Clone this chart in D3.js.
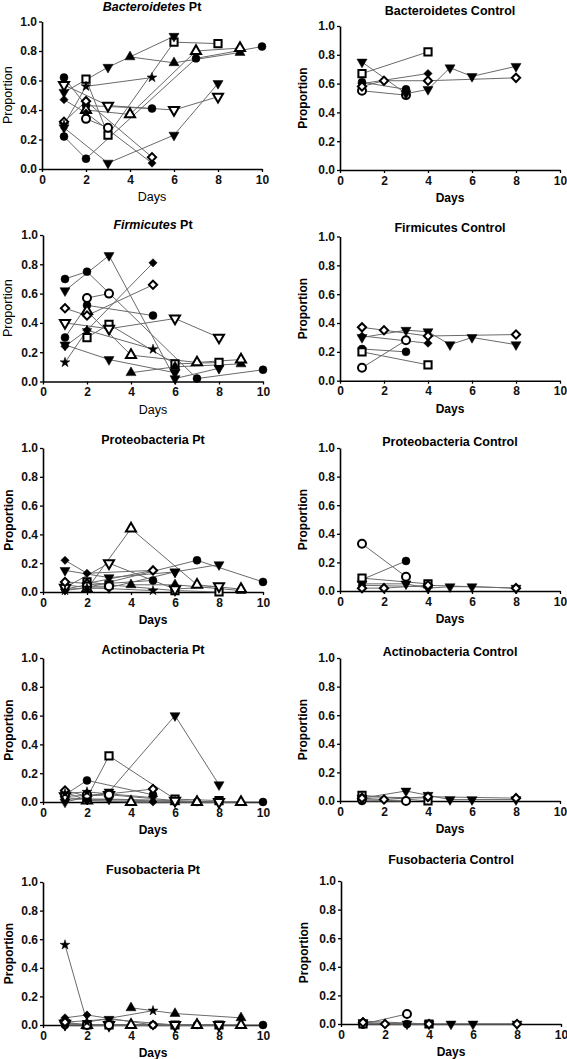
<!DOCTYPE html>
<html><head><meta charset="utf-8">
<script src="https://cdn.jsdelivr.net/npm/d3@7"></script>
<style>body{margin:0;background:#fff}svg text{font-family:"Liberation Sans",Arial,sans-serif}</style>
</head><body><svg id="c" width="567" height="1059"></svg>
<script>
// ---------- data ----------
const xTickValues = [0, 2, 4, 6, 8, 10];
const yTickValues = [0, 0.2, 0.4, 0.6, 0.8, 1.0];
const phyla = ["Bacteroidetes", "Firmicutes", "Proteobacteria", "Actinobacteria", "Fusobacteria"];
const groups = ["Pt", "Control"];

// patients (Pt group)
const ptMarkers = ["circle","circle","squareOpen","triUp","triUpOpen","triDown","triDown","triDownOpen","diamond","diamondOpen","circleOpen","star"];
const ptDays = [[1,2,5],[1,2,7,10],[2,3,6,8],[4,6,9],[2,4,7,9],[1,3,6],[1,3,6,8],[1,3,6,8],[1,2,5],[1,2,5],[2,3],[1,2,5]];

const bacteroidetesPt = [[0.62,0.43,0.41],[0.22,0.07,0.75,0.83],[0.61,0.23,0.86,0.85],[0.76,0.72,0.79],[0.40,0.37,0.80,0.82],[0.52,0.69,0.90],[0.28,0.04,0.23,0.58],[0.57,0.43,0.40,0.49],[0.47,0.38,0.04],[0.32,0.46,0.08],[0.34,0.28],[0.30,0.56,0.62]];
const firmicutesPt = [[0.30,0.52,0.45],[0.70,0.75,0.02,0.08],[0.30,0.39,0.12,0.13],[0.06,0.10,0.12],[0.48,0.18,0.13,0.15],[0.25,0.15,0.06],[0.62,0.86,0.02,0.09],[0.40,0.36,0.43,0.30],[0.24,0.35,0.81],[0.50,0.45,0.66],[0.57,0.60],[0.13,0.35,0.22]];
const proteobacteriaPt = [[0.02,0.05,0.08],[0.05,0.03,0.22,0.07],[0.07,0.05,0.01,0.00],[0.05,0.05,0.01],[0.02,0.44,0.05,0.02],[0.15,0.10,0.14],[0.02,0.03,0.14,0.19],[0.03,0.20,0.02,0.04],[0.22,0.13,0.15],[0.07,0.06,0.15],[0.04,0.04],[0.01,0.03,0.01]];
const actinobacteriaPt = [[0.05,0.15,0.05],[0.03,0.02,0.00,0.00],[0.03,0.32,0.02,0.01],[0.00,0.00,0.00],[0.01,0.00,0.00,0.00],[0.02,0.02,0.01],[0.00,0.07,0.60,0.12],[0.04,0.05,0.01,0.00],[0.07,0.01,0.00],[0.08,0.04,0.09],[0.05,0.05],[0.06,0.07,0.03]];
const fusobacteriaPt = [[0.01,0.00,0.00],[0.00,0.00,0.00,0.00],[0.00,0.00,0.00,0.00],[0.12,0.08,0.05],[0.00,0.00,0.00,0.00],[0.02,0.04,0.00],[0.00,0.00,0.00,0.00],[0.01,0.00,0.00,0.00],[0.05,0.07,0.00],[0.02,0.00,0.00],[0.00,0.00],[0.56,0.02,0.10]];

// controls
const ctlMarkers = ["circle","circleOpen","squareOpen","triDown","diamond","diamondOpen"];
const ctlDays = [[1,3],[1,3],[1,4],[1,3,4,5,6,8],[1,4],[1,2,4,8]];

const bacteroidetesControl = [[0.61,0.56],[0.55,0.52],[0.67,0.82],[0.75,0.53,0.56,0.71,0.65,0.72],[0.60,0.67],[0.58,0.62,0.62,0.64]];
const firmicutesControl = [[0.22,0.20],[0.09,0.28],[0.20,0.11],[0.30,0.35,0.34,0.25,0.30,0.25],[0.31,0.26],[0.37,0.35,0.31,0.32]];
const proteobacteriaControl = [[0.08,0.21],[0.33,0.10],[0.09,0.05],[0.05,0.05,0.02,0.03,0.03,0.02],[0.04,0.03],[0.02,0.02,0.04,0.02]];
const actinobacteriaControl = [[0.00,0.00],[0.01,0.00],[0.04,0.00],[0.02,0.07,0.04,0.01,0.01,0.01],[0.03,0.02],[0.02,0.01,0.03,0.02]];
const fusobacteriaControl = [[0.00,0.00],[0.00,0.07],[0.00,0.00],[0.01,0.00,0.00,0.00,0.00,0.00],[0.02,0.00],[0.01,0.00,0.00,0.00]];

const ptValues = [bacteroidetesPt, firmicutesPt, proteobacteriaPt, actinobacteriaPt, fusobacteriaPt];
const ctlValues = [bacteroidetesControl, firmicutesControl, proteobacteriaControl, actinobacteriaControl, fusobacteriaControl];

// ---------- layout ----------
// per row: [left: x0, yTop, yBottom, titleY], [right: ...]
const panelBoxes = [
  [[42, 21.5, 169, 7], [340, 26, 170, 11]],
  [[43, 235, 381.5, 225], [340, 236.5, 380.7, 228]],
  [[43, 448, 592, 440], [340, 448, 591, 442]],
  [[43, 658, 802, 650], [340, 658, 801, 652]],
  [[43, 882, 1025, 870], [341, 881, 1024, 860]]
];
const plotW = 220;

const svg = d3.select("#c");

function symPath(type) {
  const base = type.replace("Open", "");
  if (base === "circle") return d3.symbol(d3.symbolCircle, 50)();
  if (base === "square") return d3.symbol(d3.symbolSquare, 52)();
  if (base === "triUp" || base === "triDown") return d3.symbol(d3.symbolTriangle, 44)();
  if (base === "diamond") return d3.symbol(d3.symbolSquare, 34)();
  if (base === "star") return d3.symbol(d3.symbolStar, 30)();
}
function symRot(type) {
  const base = type.replace("Open", "");
  if (base === "triDown") return 180;
  if (base === "diamond") return 45;
  return 0;
}

phyla.forEach((phylum, r) => {
  groups.forEach((grp, c) => {
    const [x0, yTop, yBot, titleY] = panelBoxes[r][c];
    const x = d3.scaleLinear().domain([0, 10]).range([x0, x0 + plotW]);
    const y = d3.scaleLinear().domain([0, 1]).range([yBot, yTop]);
    const g = svg.append("g");
    const plain = (r < 2 && c === 0);

    // title
    const t = g.append("text").attr("x", x0 + plotW / 2).attr("y", titleY).attr("dy", "0.35em")
      .attr("text-anchor", "middle").attr("font-weight", "bold").attr("font-size", 12.5);
    if (grp === "Pt" && r < 2) {
      t.append("tspan").attr("font-style", "italic").text(phylum);
      t.append("tspan").text(" " + grp);
    } else {
      t.text(phylum + " " + grp);
    }

    // axes
    const ya = g.append("g").attr("transform", `translate(${x0},0)`)
      .call(d3.axisLeft(y).tickValues(yTickValues).tickFormat(d3.format(".1f")).tickSize(3).tickSizeOuter(0).tickPadding(2));
    const xa = g.append("g").attr("transform", `translate(0,${yBot})`)
      .call(d3.axisBottom(x).tickValues(xTickValues).tickFormat(d3.format("d")).tickSize(3).tickSizeOuter(0).tickPadding(3));
    [ya, xa].forEach(a => {
      a.select(".domain").attr("stroke", "#000").attr("stroke-width", 1.6);
      a.selectAll(".tick line").attr("stroke", "#000").attr("stroke-width", 1.3);
      a.selectAll(".tick text").attr("font-size", 12).attr("font-weight", "bold").attr("fill", "#111")
        .style("font-family", '"Liberation Sans",Arial,sans-serif');
    });

    // axis labels
    g.append("text").attr("x", x0 + plotW / 2).attr("y", yBot + 28).attr("dy", "0.35em")
      .attr("text-anchor", "middle").attr("font-size", plain ? 12.5 : 12).attr("font-weight", plain ? "normal" : "bold")
      .text("Days");
    g.append("text").attr("transform", `translate(${c === 0 ? (plain ? 7.5 : 9) : x0 - 37},${(yTop + yBot) / 2}) rotate(-90)`)
      .attr("dy", "0.35em").attr("text-anchor", "middle")
      .attr("font-size", plain ? 12.5 : 12).attr("font-weight", plain ? "normal" : "bold")
      .text("Proportion");

    const markers = grp === "Pt" ? ptMarkers : ctlMarkers;
    const daysArr = grp === "Pt" ? ptDays : ctlDays;
    const vals = grp === "Pt" ? ptValues[r] : ctlValues[r];
    const series = vals.map((v, i) => ({ marker: markers[i], pts: v.map((val, j) => [daysArr[i][j], val]) }));

    const line = d3.line().x(d => x(d[0])).y(d => y(d[1]));
    g.append("g").selectAll("path").data(series).join("path")
      .attr("d", s => line(s.pts)).attr("fill", "none").attr("stroke", "#6a6a6a").attr("stroke-width", 1);

    series.forEach(s => {
      const open = s.marker.includes("Open");
      g.append("g").selectAll("path").data(s.pts).join("path")
        .attr("d", symPath(s.marker))
        .attr("transform", d => `translate(${x(d[0])},${y(d[1])}) rotate(${symRot(s.marker)})`)
        .attr("fill", open ? "#fff" : "#000")
        .attr("stroke", "#000").attr("stroke-width", open ? 2 : 0.5);
    });
  });
});
</script></body></html>
